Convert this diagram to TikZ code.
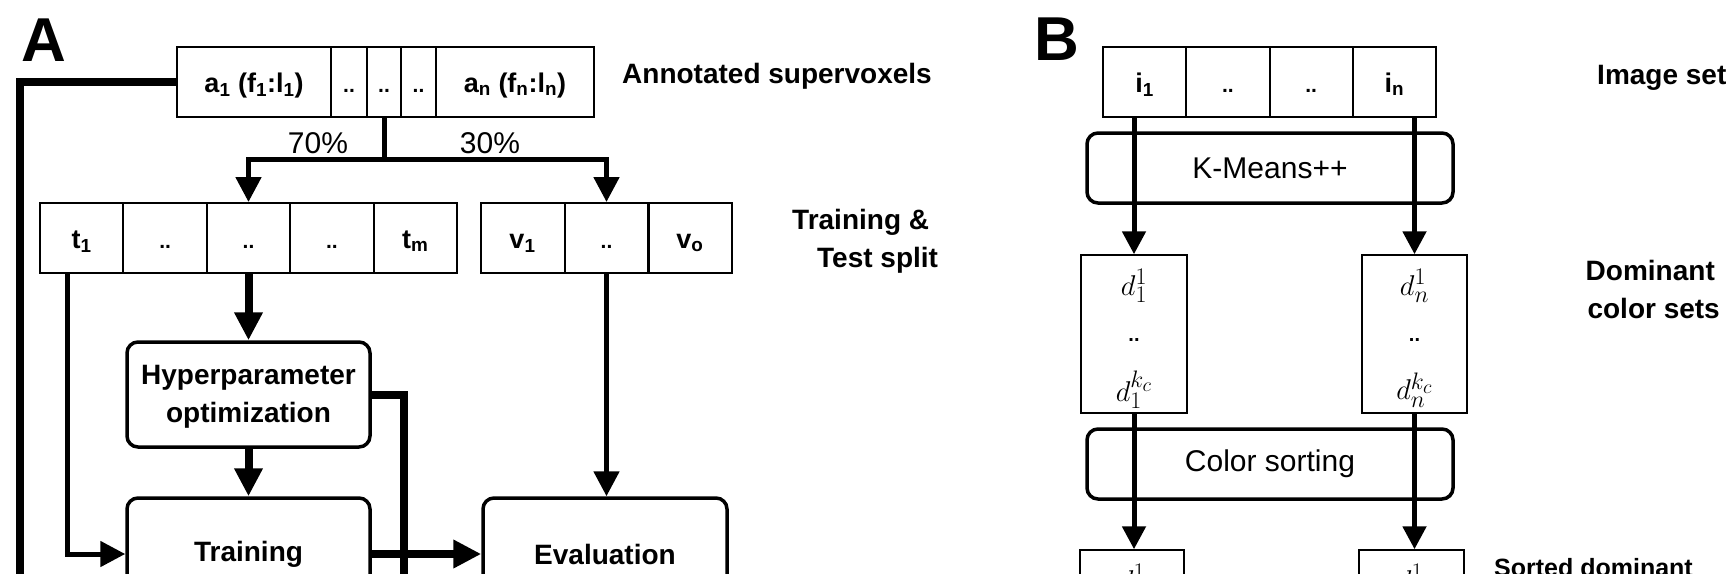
\documentclass[tikz,border=0pt]{standalone}
\usepackage{graphicx}
\usepackage[no-math]{fontspec}
\setmainfont{Liberation Sans}
\usetikzlibrary{arrows.meta}
\newcommand{\mymathbig}[1]{\scalebox{1.15}{$#1$}}
\newcommand{\mydots}{{\fontsize{21}{24}\selectfont ..}}
\tikzset{
  cell/.style={draw, line width=2pt, minimum height=70pt, inner sep=0pt,
    text height=20pt, text depth=0pt, font=\fontsize{27}{30}\selectfont\bfseries},
  rbox/.style={draw, line width=3.5pt, rounded corners=11pt, inner sep=0pt},
  boldtext/.style={font=\fontsize{28}{34}\selectfont\bfseries},
  plaintext/.style={font=\fontsize{30}{36}\selectfont},
  boldlabel/.style={boldtext, inner sep=0pt},
  plainlabel/.style={plaintext, inner sep=0pt},
  medline/.style={line width=5pt},
  thickline/.style={line width=8pt},
  medarrow/.style={medline, -{Triangle[length=25pt,width=25pt]}},
  smallarrow/.style={medline, -{Triangle[length=23pt,width=23pt]}},
  thickarrow/.style={thickline, -{Triangle[length=28pt,width=27pt]}},
  dbox/.style={draw, line width=1.5pt, minimum height=158pt, inner sep=0pt},
  mathlabel/.style={font=\fontsize{24.88}{30}\selectfont, inner sep=0pt},
  dotlabel/.style={font=\fontsize{27}{30}\selectfont\bfseries, inner sep=0pt},
  panel/.style={font=\fontsize{62}{70}\selectfont\bfseries, inner sep=0pt},
}
\begin{document}
\begin{tikzpicture}[x=1pt,y=-1pt]
\fill[white] (0,0) rectangle (1726,573);
\useasboundingbox (0,0) rectangle (1726,573);

% ---------------- Panel A ----------------
\node[panel] (pA) at (44,40) {A};

\node[cell, minimum width=154pt] (a1) at (254,82) {a\textsubscript{1} (f\textsubscript{1}:l\textsubscript{1})};
\node[cell, minimum width=36pt] (a2) at (349,82) {\mydots};
\node[cell, minimum width=34pt] (a3) at (384,82) {\mydots};
\node[cell, minimum width=35pt] (a4) at (418.5,82) {\mydots};
\node[cell, minimum width=158pt] (a5) at (515,82) {a\textsubscript{n} (f\textsubscript{n}:l\textsubscript{n})};

\node[boldlabel, anchor=base west] (annot) at (622,83) {Annotated supervoxels};

\node[cell, minimum width=83.4pt] (t1) at (81.7,238) {t\textsubscript{1}};
\node[cell, minimum width=83.4pt] (t2) at (165.1,238) {\mydots};
\node[cell, minimum width=83.4pt] (t3) at (248.5,238) {\mydots};
\node[cell, minimum width=83.4pt] (t4) at (331.9,238) {\mydots};
\node[cell, minimum width=83.4pt] (t5) at (415.3,238) {t\textsubscript{m}};

\node[cell, minimum width=84pt] (v1) at (522.5,238) {v\textsubscript{1}};
\node[cell, minimum width=84pt] (v2) at (606.5,238) {\mydots};
\node[cell, minimum width=84pt] (v3) at (690,238) {v\textsubscript{o}};

\node[boldlabel, anchor=base west] (splitA) at (792,229) {Training \&};
\node[boldlabel, anchor=base west] (splitB) at (817,267) {Test split};

\node[plainlabel] (p70) at (318,143) {70\%};
\node[plainlabel] (p30) at (490,143) {30\%};

\node[rbox, font=\fontsize{28}{38}\selectfont\bfseries, align=center, minimum width=243pt, minimum height=105pt] (hyper) at (248.5,394.5) {};
\node[inner sep=0pt, font=\fontsize{28}{38}\selectfont\bfseries, align=center] (hypertext) at (248.5,397) {Hyperparameter\\optimization};
\node[rbox, boldtext, minimum width=243pt, minimum height=112pt] (train) at (248.5,554) {Training};
\node[rbox, boldtext, minimum width=244pt, minimum height=112pt] (eval) at (605,554) {Evaluation};

\coordinate (split) at (384,159);
\coordinate (leftbot) at (19.5,640);
\coordinate (hypbot) at (404,640);

\draw[medline] (a3.south) -- (split);
\draw[medarrow] (split) -| (t3.north);
\draw[medarrow] (split) -| (v2.north);
\draw[thickline] (a1.west) -| (leftbot);
\draw[medarrow] ([xshift=-14.7pt]t1.south) |- (train.west);
\draw[thickarrow] (t3.south) -- (hyper.north);
\draw[thickarrow] (hyper.south) -- (train.north);
\draw[thickline] (hyper.east) -| (hypbot);
\draw[thickarrow] (train.east) -- (eval.west);
\draw[medarrow] (v2.south) -- (v2.south |- eval.north);

% ---------------- Panel B ----------------
\node[panel] (pB) at (1057,39) {B};

\node[cell, minimum width=83.3pt] (i1) at (1144.6,82) {i\textsubscript{1}};
\node[cell, minimum width=83.3pt] (i2) at (1227.9,82) {\mydots};
\node[cell, minimum width=83.3pt] (i3) at (1311.2,82) {\mydots};
\node[cell, minimum width=83.3pt] (i4) at (1394.5,82) {i\textsubscript{n}};

\node[boldlabel, anchor=base west] (imgset) at (1597,84) {Image set};

\node[rbox, plaintext, minimum width=366pt, minimum height=70pt] (km) at (1270,168) {K-Means++};

\node[dbox, minimum width=106pt] (dom1) at (1134,334) {};
\node[dbox, minimum width=105pt] (dom2) at (1414.5,334) {};
\node[mathlabel] (d1a) at (1134,286) {\mymathbig{d_1^1}};
\node[dotlabel, font=\fontsize{20}{24}\selectfont\bfseries] (d1b) at (1134,340) {..};
\node[mathlabel] (d1c) at (1134,390) {\mymathbig{d_1^{k_c}}};
\node[mathlabel] (d2a) at (1414.5,286) {\mymathbig{d_n^1}};
\node[dotlabel, font=\fontsize{20}{24}\selectfont\bfseries] (d2b) at (1414.5,340) {..};
\node[mathlabel] (d2c) at (1414.5,390) {\mymathbig{d_n^{k_c}}};

\node[boldlabel, anchor=base east] (domA) at (1715,280) {Dominant};
\node[boldlabel, anchor=base east] (domB) at (1720,318) {color sets};

\node[rbox, plaintext, minimum width=366pt, minimum height=70pt] (cs) at (1270,464) {Color sorting};

\node[dbox, minimum width=104pt] (so1) at (1132,629) {};
\node[dbox, minimum width=105pt] (so2) at (1411.5,629) {};
\node[mathlabel] (s1a) at (1132,581) {\mymathbig{d_1^1}};
\node[mathlabel] (s2a) at (1411.5,581) {\mymathbig{d_n^1}};

\node[boldlabel, font=\fontsize{25}{30}\selectfont\bfseries, anchor=base west] (sortA) at (1494,576) {Sorted dominant};

\draw[smallarrow] (dom1.north |- i1.south) -- (dom1.north);
\draw[smallarrow] (dom2.north |- i4.south) -- (dom2.north);
\draw[smallarrow] (dom1.south) -- (dom1.south |- so1.north);
\draw[smallarrow] (dom2.south) -- (dom2.south |- so2.north);
\end{tikzpicture}
\end{document}
